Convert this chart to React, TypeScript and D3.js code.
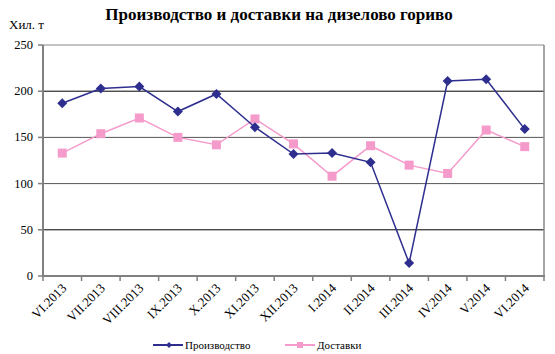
import React from "react";
import * as d3 from "d3";

const categories = ["VI.2013","VII.2013","VIII.2013","IX.2013","X.2013","XI.2013","XII.2013","I.2014","II.2014","III.2014","IV.2014","V.2014","VI.2014"];
const production = [187, 203, 205, 178, 197, 161, 132, 133, 123, 14, 211, 213, 159];
const deliveries = [133, 154, 171, 150, 142, 170, 143, 108, 141, 120, 111, 158, 140];
const yTicks = [0, 50, 100, 150, 200, 250];
const title = "Производство и доставки на дизелово гориво";
const yUnit = "Хил. т";
const seriesNames = ["Производство", "Доставки"];

const W = 555, H = 354;
const left = 43, right = 544, top = 45, bottom = 276;
const FONT = "'Liberation Serif', 'Times New Roman', serif";

export default function App() {
  const x = d3.scaleBand<string>().domain(categories).range([left, right]).padding(0);
  const y = d3.scaleLinear().domain([0, 250]).range([bottom, top]);
  const cx = (c: string) => (x(c) as number) + x.bandwidth() / 2;
  const line = d3.line<number>().x((_, i) => cx(categories[i])).y((d) => y(d));
  const prodColor = "#2E2E8F";
  const delivColor = "#F59BCB";
  const diamond = (px: number, py: number, r = 5) => `M${px},${py - r}L${px + r},${py}L${px},${py + r}L${px - r},${py}Z`;
  const tickXs = d3.range(categories.length + 1).map((i) => left + i * x.bandwidth());

  return (
    <svg width={W} height={H} style={{ position: "absolute", left: 0, top: 0, background: "#fff" }} fontFamily={FONT}>
      <rect width={W} height={H} fill="#fff" />
      <text x={279} y={20} textAnchor="middle" fontSize={17} fontWeight="bold">{title}</text>
      <text x={9} y={29} fontSize={13}>{yUnit}</text>
      {/* grid */}
      {yTicks.filter((t) => t > 0 && t < 250).map((t) => (
        <line key={t} x1={left} x2={right} y1={y(t)} y2={y(t)} stroke={t === 200 || t === 50 ? "#000" : "#555"} strokeWidth={1} />
      ))}
      {/* frame */}
      <line x1={left} x2={right} y1={top} y2={top} stroke="#888" strokeWidth={1} />
      <line x1={right} x2={right} y1={top} y2={bottom} stroke="#888" strokeWidth={1.5} />
      <line x1={left} x2={left} y1={top} y2={bottom} stroke="#808080" strokeWidth={2} />
      <line x1={left - 1} x2={right + 1} y1={bottom} y2={bottom} stroke="#808080" strokeWidth={2} />
      {yTicks.map((t) => (
        <g key={t}>
          <line x1={left - 5} x2={left} y1={y(t)} y2={y(t)} stroke="#808080" strokeWidth={1.5} />
          <text x={left - 10} y={y(t) + 4} textAnchor="end" fontSize={12.5}>{t}</text>
        </g>
      ))}
      {tickXs.map((tx, i) => (
        <line key={i} x1={tx} x2={tx} y1={bottom} y2={bottom + 5} stroke="#808080" strokeWidth={1.5} />
      ))}
      {categories.map((c) => (
        <text key={c} transform={`translate(${cx(c) + 5},${bottom + 13}) rotate(-45)`} textAnchor="end" fontSize={13}>{c}</text>
      ))}
      {/* series */}
      <path d={line(deliveries) || ""} fill="none" stroke={delivColor} strokeWidth={1.5} />
      {deliveries.map((v, i) => (
        <rect key={i} x={cx(categories[i]) - 4.5} y={y(v) - 4.5} width={9} height={9} fill={delivColor} />
      ))}
      <path d={line(production) || ""} fill="none" stroke={prodColor} strokeWidth={1.5} />
      {production.map((v, i) => (
        <path key={i} d={diamond(cx(categories[i]), y(v))} fill={prodColor} />
      ))}
      {/* legend */}
      <line x1={153} x2={183} y1={345} y2={345} stroke={prodColor} strokeWidth={2} />
      <path d={diamond(169, 345, 3)} fill={prodColor} />
      <text x={185} y={349} fontSize={11}>{seriesNames[0]}</text>
      <line x1={285} x2={315} y1={345} y2={345} stroke={delivColor} strokeWidth={2} />
      <rect x={297} y={342} width={6} height={6} fill={delivColor} />
      <text x={317} y={349} fontSize={11}>{seriesNames[1]}</text>
    </svg>
  );
}
